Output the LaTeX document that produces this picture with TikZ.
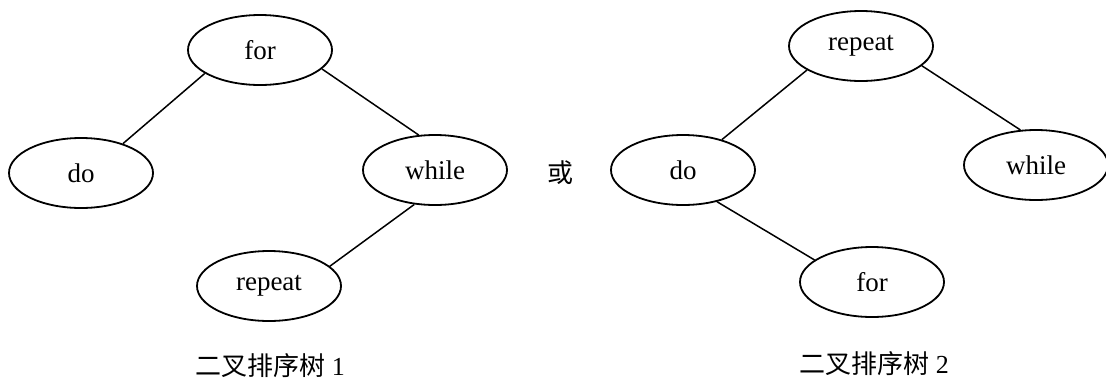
\documentclass[tikz,border=0pt]{standalone}
\usepackage{fontspec}
\setmainfont{Liberation Serif}
\newfontfamily\cjk{Noto Sans CJK SC}
\usetikzlibrary{shapes.geometric}
\begin{document}
\begin{tikzpicture}[x=1pt,y=-1pt,
  keynode/.style={ellipse,draw,line width=1.8pt,minimum width=144pt,minimum height=70pt,inner sep=0pt,font=\fontsize{27}{30}\selectfont},
  edge/.style={line width=1.5pt},
  caption/.style={inner sep=0pt,font=\fontsize{26}{28}\selectfont}]
\useasboundingbox (0,0) rectangle (1106,381);
% tree 1
\node[keynode] (f1) at (260,50) {for};
\node[keynode] (d1) at (81,173) {do};
\node[keynode] (w1) at (435,170) {while};
\node[keynode] (r1) at (269,286) {repeat};
\draw[edge] (f1.203) -- (d1.35);
\draw[edge] (f1.343) -- (w1.115);
\draw[edge] (w1.239) -- (r1.18);
\node[caption] (c1) at (270,366) {{\cjk 二叉排序树} 1};
% or
\node[caption] (or) at (560,173) {\cjk 或};
% tree 2
\node[keynode] (r2) at (861,46) {repeat};
\node[keynode] (d2) at (683,170) {do};
\node[keynode] (w2) at (1036,165) {while};
\node[keynode] (f2) at (872,282) {for};
\draw[edge] (r2.204) -- (d2.38);
\draw[edge] (r2.342) -- (w2.114);
\draw[edge] (d2.317) -- (f2.159);
\node[caption] (c2) at (874,364) {{\cjk 二叉排序树} 2};
\end{tikzpicture}
\end{document}
